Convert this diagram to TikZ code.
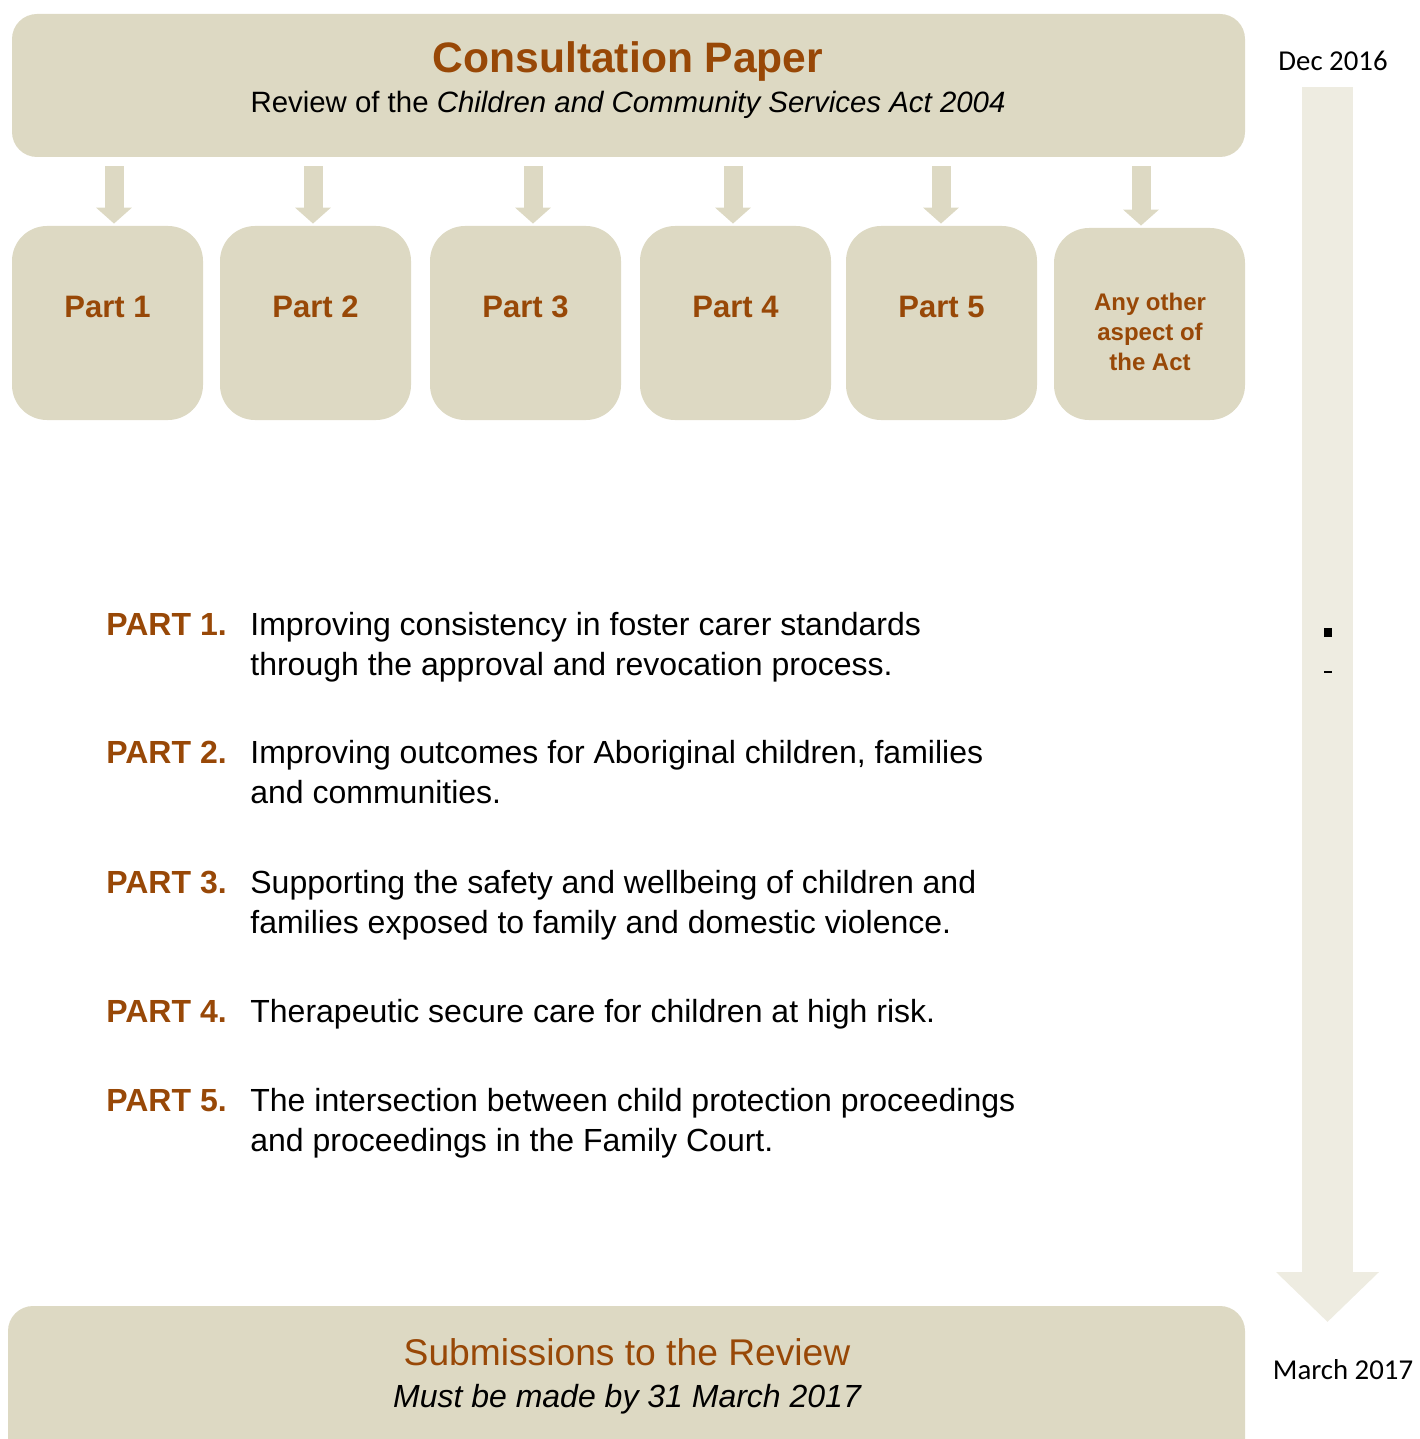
\documentclass[tikz,border=0pt]{standalone}
\usepackage{fontspec}
\setmainfont{Liberation Sans}
\newfontfamily\datefont{Carlito}
\usetikzlibrary{arrows.meta}
\definecolor{tan}{HTML}{DDD9C3}
\definecolor{pale}{HTML}{EEECE1}
\definecolor{rust}{HTML}{984807}
\tikzset{panel/.style={fill=tan, rounded corners=12.5pt, inner sep=0pt}}
\tikzset{partbox/.style={fill=tan, rounded corners=17.5pt, inner sep=0pt, minimum width=95.5pt, minimum height=97pt}}
\tikzset{partname/.style={font=\bfseries\fontsize{15.5}{19}\selectfont, text=rust}}
\tikzset{feed/.style={draw=tan, line width=9.5pt, -{Triangle[width=17.5pt,length=8pt]}, shorten <=4.5pt, shorten >=1pt}}
\tikzset{itemhead/.style={anchor=base west, inner sep=0pt, font=\bfseries\fontsize{16}{20}\selectfont, text=rust}}
\tikzset{itemtext/.style={anchor=base west, inner sep=0pt, align=left, font=\fontsize{16}{20}\selectfont}}
\tikzset{datelabel/.style={anchor=base, inner sep=0pt, font=\datefont\fontsize{14.4}{17}\selectfont}}

\begin{document}
\begin{tikzpicture}[x=0.5pt, y=-0.5pt]
    \clip (0,0) rectangle (1419,1439);

    % timeline
    \coordinate (tltop) at (1327.5,87);
    \coordinate (tlend) at (1327.5,1322);
    \draw [draw=pale, line width=25.5pt, -{Triangle[width=50pt,length=25pt]}] (tltop) -- (tlend);
    \node [datelabel] (start) at (1333,71) {Dec 2016};
    \node [datelabel] (finish) at (1343,1379) {March 2017};
    \fill (1324,628) rectangle (1332,637);
    \fill (1324,671) rectangle (1332,673);

    % consultation paper
    \node [panel, minimum width=616.5pt, minimum height=71.5pt] (top) at (628.5,85.5) {};
    \node [anchor=base, inner sep=0pt, text=rust, font=\bfseries\fontsize{21.3}{25}\selectfont] (title) at (628,73) {Consultation Paper};
    \node [anchor=base, inner sep=0pt, font=\fontsize{14.7}{18}\selectfont] (subtitle) at (628,113) {Review of the \textit{Children and Community Services Act 2004}};

    % parts
    \foreach \i/\cx/\ax in {1/107.5/114, 2/315.5/313, 3/525.5/533, 4/735.5/733, 5/941.5/941} {
      \node [partbox] (p\i) at (\cx,323) {};
      \node [partname, anchor=base, inner sep=0pt] (n\i) at (\cx,317) {Part \i};
      \coordinate (a\i) at (\ax,0);
      \draw [feed] (top.south -| a\i) -- (p\i.north -| a\i);
    }
    \node [partbox, minimum height=96pt] (p6) at (1149.5,324) {};
    \node [partname, font=\bfseries\fontsize{12}{15}\selectfont, align=center] (n6) at (1150,332) {Any other\\aspect of\\the Act};
    \coordinate (a6) at (1141,0);
    \draw [feed] (top.south -| a6) -- (p6.north -| a6);

    % list of parts (text nodes sit on their last baseline)
    \node [itemhead] (h1) at (106,635) {PART 1.};
    \node [itemtext] (t1) at (250,675) {Improving consistency in foster carer standards\\through the approval and revocation process.};
    \node [itemhead] (h2) at (106,763) {PART 2.};
    \node [itemtext] (t2) at (250,803) {Improving outcomes for Aboriginal children, families\\and communities.};
    \node [itemhead] (h3) at (106,893) {PART 3.};
    \node [itemtext] (t3) at (250,933) {Supporting the safety and wellbeing of children and\\families exposed to family and domestic violence.};
    \node [itemhead] (h4) at (106,1022) {PART 4.};
    \node [itemtext] (t4) at (250,1022) {Therapeutic secure care for children at high risk.};
    \node [itemhead] (h5) at (106,1111) {PART 5.};
    \node [itemtext] (t5) at (250,1151) {The intersection between child protection proceedings\\and proceedings in the Family Court.};

    % submissions
    \node [panel, minimum width=618.5pt, minimum height=87pt] (bottom) at (626.5,1393) {};
    \node [anchor=base, inner sep=0pt, text=rust, font=\fontsize{18.6}{22}\selectfont] (subs) at (627,1365) {Submissions to the Review};
    \node [anchor=base, inner sep=0pt, font=\itshape\fontsize{16}{19}\selectfont] (due) at (627,1407) {Must be made by 31 March 2017};
  \end{tikzpicture}
\end{document}
